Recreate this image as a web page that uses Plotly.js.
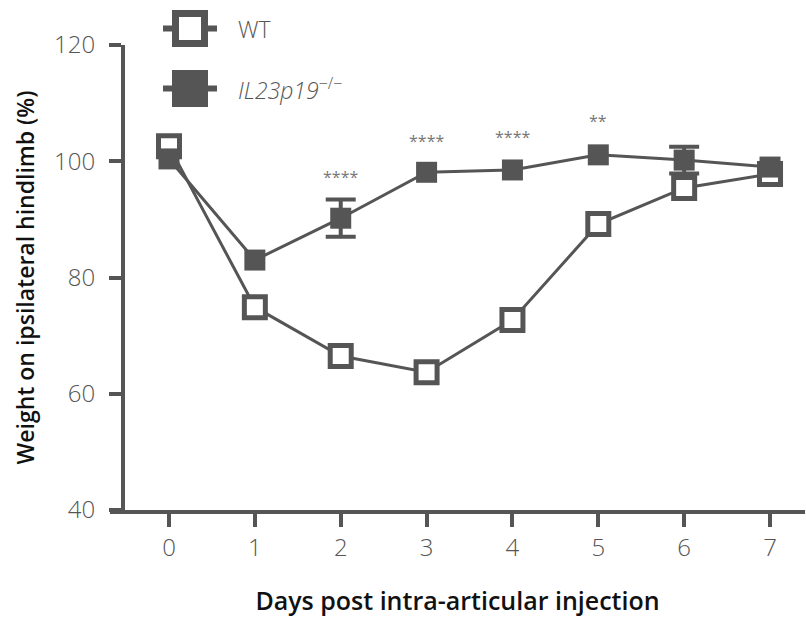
<!DOCTYPE html>
<html>
<head>
<meta charset="utf-8">
<script src="https://cdn.plot.ly/plotly-3.0.1.min.js"></script>
<style>html,body{margin:0;padding:0;background:#fff;}#chart{width:806px;height:617px;}</style>
</head>
<body>
<div id="chart"></div>
<script>
// Data (NaN = error bar hidden behind the marker)
const days = [0, 1, 2, 3, 4, 5, 6, 7];
const wtValues = [102.6, 74.9, 66.5, 63.7, 72.7, 89.2, 95.4, 97.8];
const koValues = [100.4, 83.0, 90.2, 98.1, 98.5, 101.1, 100.2, 99.0];
const koErrors = [NaN, NaN, 3.2, NaN, NaN, NaN, 2.3, NaN];
const sigDays = [2, 3, 4, 5];
const sigLabels = ['****', '****', '****', '**'];
const sigY = [97.3, 103.5, 104.2, 106.9];
const yTicks = [40, 60, 80, 100, 120];
const xTicks = [0, 1, 2, 3, 4, 5, 6, 7];
const seriesNames = ['WT', '<i>IL23p19</i><sup>−/−</sup>'];

const gray = '#555555';
const FONT = 'Open Sans, Lato, sans-serif';

const wt = {
  x: days, y: wtValues, type: 'scatter', mode: 'lines+markers', name: seriesNames[0],
  line: {color: gray, width: 3},
  marker: {symbol: 'square', size: 21, color: '#ffffff', line: {color: gray, width: 5}},
  cliponaxis: false, showlegend: false
};
const ko = {
  x: days, y: koValues, type: 'scatter', mode: 'lines+markers', name: seriesNames[1],
  line: {color: gray, width: 3},
  marker: {symbol: 'square', size: 21, color: gray, line: {width: 0}},
  error_y: {type: 'data', array: koErrors, visible: true, color: gray, thickness: 4, width: 15},
  cliponaxis: false, showlegend: false
};

// pixel -> paper helpers for legend drawing
const L = 110, R = 1, T = 45, B = 107, W = 806, H = 617;
const pw = W - L - R, ph = H - T - B;
const px = v => (v - L) / pw;
const py = v => (H - B - v) / ph;

const annotations = sigDays.map((d, i) => ({
  x: d, y: sigY[i], xref: 'x', yref: 'y', text: sigLabels[i], showarrow: false,
  font: {family: FONT, size: 16, color: '#777777'}, xanchor: 'center', yanchor: 'middle'
}));
annotations.push({
  x: px(236), y: py(29), xref: 'paper', yref: 'paper', text: seriesNames[0], showarrow: false,
  xanchor: 'left', yanchor: 'middle', font: {family: FONT, size: 23, color: gray, weight: 300}
});
annotations.push({
  x: px(236), y: py(89), xref: 'paper', yref: 'paper', text: seriesNames[1], showarrow: false,
  xanchor: 'left', yanchor: 'middle', font: {family: FONT, size: 23, color: gray, weight: 300}
});

const shapes = [
  {type: 'line', xref: 'paper', yref: 'paper', x0: px(163), x1: px(217), y0: py(28.5), y1: py(28.5), line: {color: gray, width: 6}},
  {type: 'rect', xref: 'paper', yref: 'paper', x0: px(175.5), x1: px(204.5), y0: py(43.5), y1: py(13.5), fillcolor: '#ffffff', line: {color: gray, width: 7}},
  {type: 'line', xref: 'paper', yref: 'paper', x0: px(163), x1: px(217), y0: py(88.5), y1: py(88.5), line: {color: gray, width: 6}},
  {type: 'rect', xref: 'paper', yref: 'paper', x0: px(172), x1: px(208), y0: py(107), y1: py(70), fillcolor: gray, line: {width: 0}}
];

const layout = {
  width: W, height: H,
  margin: {l: L, r: R, t: T, b: B},
  paper_bgcolor: '#ffffff', plot_bgcolor: '#ffffff',
  font: {family: FONT, color: '#555555'},
  showlegend: false,
  xaxis: {
    range: [(L - 169) / 85.86, (W - R - 169) / 85.86],
    tickvals: xTicks, ticktext: xTicks.map(String),
    showline: true, linecolor: gray, linewidth: 4,
    ticks: 'outside', ticklen: 13, tickwidth: 4, tickcolor: gray,
    showgrid: false, zeroline: false,
    tickfont: {family: FONT, size: 24, color: '#555555', weight: 300},
    title: {text: 'Days post intra-articular injection', font: {family: FONT, size: 25, color: '#111111', weight: 600}, standoff: 33}
  },
  yaxis: {
    range: [40, 120],
    tickvals: yTicks, ticktext: yTicks.map(String),
    anchor: 'free', position: (123 - L) / pw,
    showline: true, linecolor: gray, linewidth: 4,
    ticks: 'outside', ticklen: 12, tickwidth: 4, tickcolor: gray,
    ticklabelstandoff: 9,
    showgrid: false, zeroline: false,
    tickfont: {family: FONT, size: 24, color: '#555555', weight: 300},
    title: {text: 'Weight on ipsilateral hindlimb (%)', font: {family: FONT, size: 23, color: '#111111', weight: 600}, standoff: 12}
  },
  annotations: annotations,
  shapes: shapes
};

Plotly.newPlot('chart', [wt, ko], layout, {displayModeBar: false, staticPlot: true});
</script>
</body>
</html>
